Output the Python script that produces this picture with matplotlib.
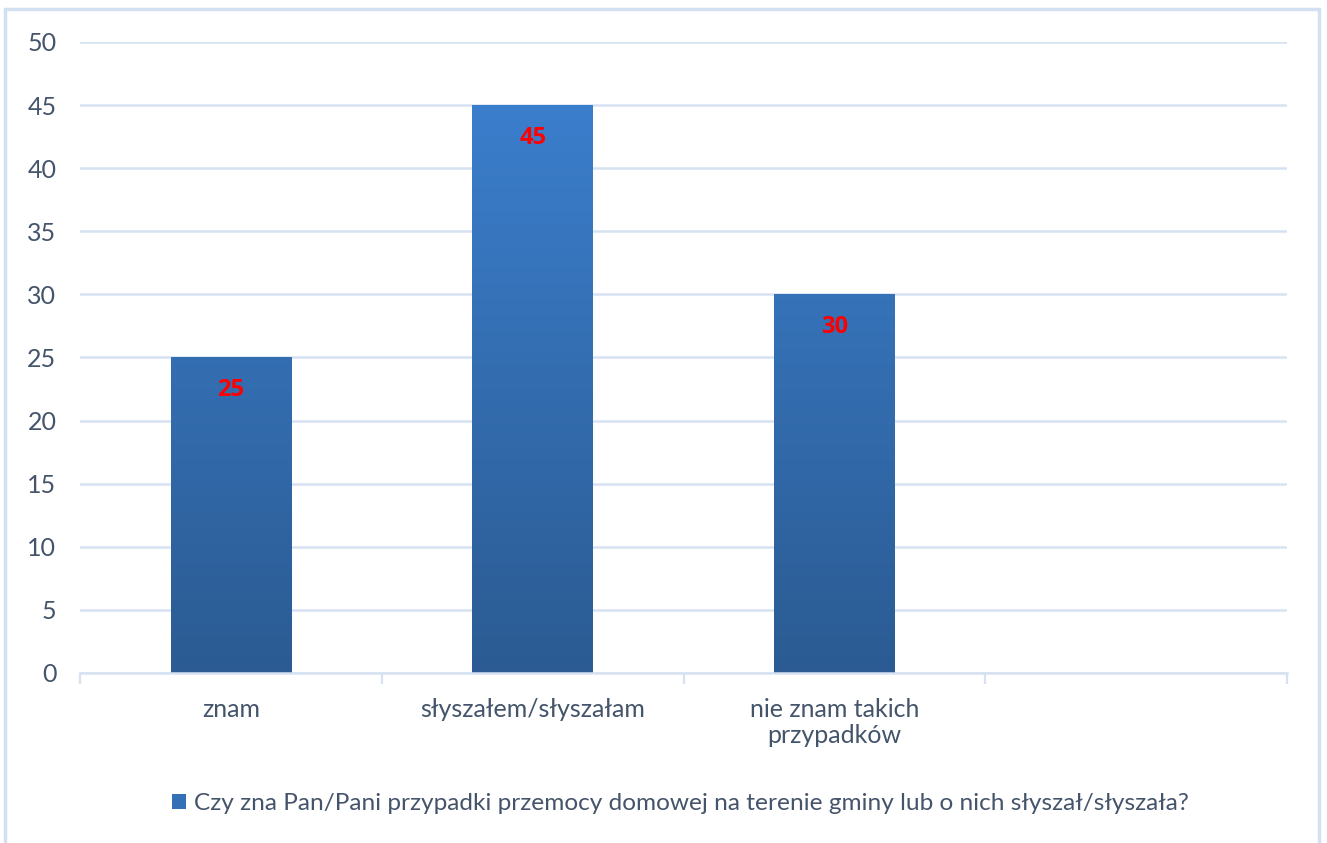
import numpy as np
import matplotlib
matplotlib.use("Agg")
import matplotlib.pyplot as plt
from matplotlib.patches import Rectangle, Patch
from matplotlib.colors import LinearSegmentedColormap

# data
categories = ["znam", "słyszałem/słyszałam", "nie znam takich\nprzypadków", ""]
values = [25, 45, 30, np.nan]
series_name = "Czy zna Pan/Pani przypadki przemocy domowej na terenie gminy lub o nich słyszał/słyszała?"

plt.rcParams['font.family'] = ['Lato', 'DejaVu Sans']
text_col = "#44546A"
grid_col = "#D6E2F2"

fig = plt.figure(figsize=(13.27, 8.43), dpi=100)
ax = fig.add_axes([0.0603, 0.2017, 0.9097, 0.7485])

x = np.arange(len(categories))
bars = ax.bar(x, values, width=0.4, color="#3470B5", zorder=2)

# vertical gradient on each bar
cmap = LinearSegmentedColormap.from_list("bar", ["#2B5B92", "#3B7ECC"])
grad = np.linspace(0, 1, 256).reshape(-1, 1)
for b in bars:
    h = b.get_height()
    if np.isnan(h):
        continue
    x0 = b.get_x()
    im = ax.imshow(grad, cmap=cmap, origin="lower", aspect="auto",
                   extent=[x0, x0 + b.get_width(), 0, 45], zorder=2.5)
    im.set_clip_path(b)

for xi, v in zip(x, values):
    if np.isnan(v):
        continue
    ax.text(xi, v - 2.6, f"{v:.0f}", ha="center", va="center", color="#FF0000",
            fontsize=17, fontweight="bold", family=["Open Sans", "DejaVu Sans"], zorder=3)

ax.set_xlim(-0.5, len(categories) - 0.5)
ax.set_ylim(0, 50)
ax.set_yticks(range(0, 51, 5))
ax.yaxis.grid(True, color=grid_col, linewidth=1.8, zorder=0)
ax.set_axisbelow(True)

ax.set_xticks(x)
ax.set_xticklabels(categories, fontsize=18, color=text_col, linespacing=1.15)
ax.set_xticks(np.arange(-0.5, len(categories)), minor=True)
ax.tick_params(axis="x", which="major", length=0, pad=18)
ax.tick_params(axis="x", which="minor", length=8, width=1.6, color=grid_col)
ax.tick_params(axis="y", length=0, pad=17, labelsize=18, labelcolor=text_col)

for s in ["top", "right", "left"]:
    ax.spines[s].set_visible(False)
ax.spines["bottom"].set_color(grid_col)
ax.spines["bottom"].set_linewidth(1.8)

handle = Patch(facecolor="#3470B5", edgecolor="none")
fig.legend([handle], [series_name], loc="center", bbox_to_anchor=(0.513, 0.047),
           frameon=False, fontsize=17.6, labelcolor=text_col,
           handlelength=0.55, handleheight=0.55, handletextpad=0.35)

# outer chart border
fig.patches.append(Rectangle((0.004, -0.01), 0.99, 0.999, transform=fig.transFigure,
                             fill=False, edgecolor="#D3E0F1", linewidth=2.5))

fig.savefig("out.png", dpi=100)
